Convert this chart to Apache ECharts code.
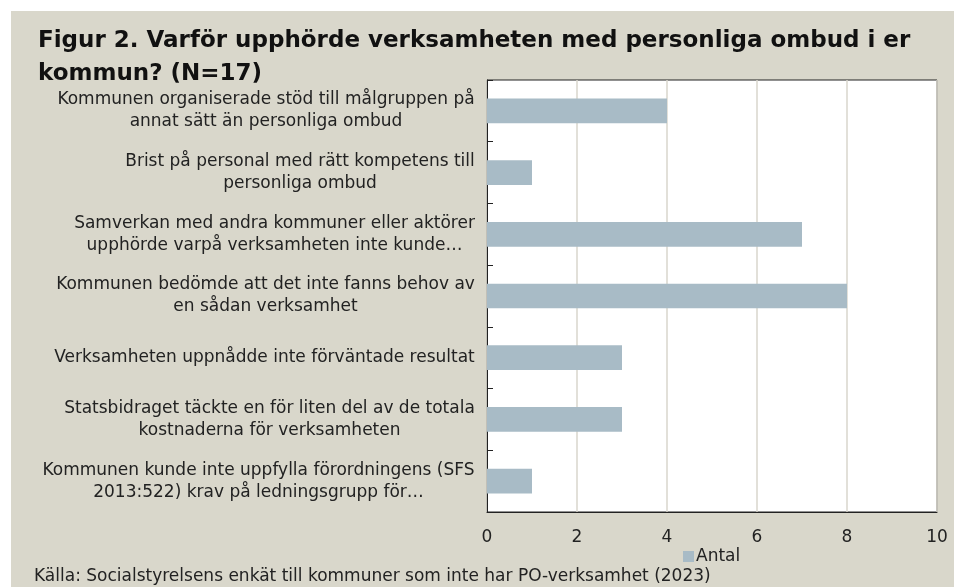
<!DOCTYPE html>
<html>
<head>
<meta charset="utf-8">
<script src="https://cdn.jsdelivr.net/npm/echarts@6/dist/echarts.min.js"></script>
<style>
  html, body { margin: 0; padding: 0; background: #fff; }
  #chart { width: 954px; height: 587px; }
</style>
</head>
<body>
<div id="chart"></div>
<script>
const categories = [
  'Kommunen organiserade stöd till målgruppen på\nannat sätt än personliga ombud',
  'Brist på personal med rätt kompetens till\npersonliga ombud',
  'Samverkan med andra kommuner eller aktörer\nupphörde varpå verksamheten inte kunde…',
  'Kommunen bedömde att det inte fanns behov av\nen sådan verksamhet',
  'Verksamheten uppnådde inte förväntade resultat',
  'Statsbidraget täckte en för liten del av de totala\nkostnaderna för verksamheten',
  'Kommunen kunde inte uppfylla förordningens (SFS\n2013:522) krav på ledningsgrupp för…'
]
const antal = [4, 1, 7, 8, 3, 3, 1]
const xTicks = [0, 2, 4, 6, 8, 10]

const labelFont = 'DejaVu Sans'
const labelSize = 17

// centre the lines of each label against its own widest line
const ctx = document.createElement('canvas').getContext('2d')
ctx.font = labelSize + 'px ' + labelFont
const rich = {}
categories.forEach((c, i) => {
  const w = Math.max(...c.split('\n').map(s => ctx.measureText(s).width))
  rich['l' + i] = { width: Math.ceil(w), align: 'center', fontSize: labelSize, fontFamily: labelFont, color: '#222', lineHeight: 22 }
})

const chart = echarts.init(document.getElementById('chart'))
chart.setOption({
  backgroundColor: '#fff',
  animation: false,
  title: {
    text: 'Figur 2. Varför upphörde verksamheten med personliga ombud i er\nkommun? (N=17)',
    left: 33, top: 20,
    textStyle: { fontFamily: labelFont, fontWeight: 'bold', fontSize: 23, color: '#111', lineHeight: 33 }
  },
  legend: {
    data: ['Antal'],
    left: 683, top: 548, padding: 0,
    icon: 'rect', itemWidth: 11, itemHeight: 11, itemGap: 0,
    textStyle: { fontFamily: labelFont, fontSize: 17, color: '#222', padding: [0, 0, 0, -3] }
  },
  grid: { left: 487, right: 17, top: 80, bottom: 75, show: true, backgroundColor: '#fff', borderColor: '#222', borderWidth: 1 },
  xAxis: {
    type: 'value', min: 0, max: 10, interval: 2,
    axisLine: { show: true, lineStyle: { color: '#222' } },
    axisTick: { show: false },
    splitLine: { lineStyle: { color: '#D8D6CC', width: 1.5 } },
    axisLabel: {
      margin: 17, fontFamily: labelFont, fontSize: 17, color: '#222',
      formatter: v => xTicks.includes(v) ? String(v) : ''
    }
  },
  yAxis: {
    type: 'category', data: categories, inverse: true,
    axisLine: { show: true, lineStyle: { color: '#222' } },
    axisTick: { show: true, inside: true, length: 6, lineStyle: { color: '#222' } },
    axisLabel: {
      margin: 12,
      formatter: (v, i) => v.split('\n').map(s => '{l' + i + '|' + s + '}').join('\n'),
      rich
    }
  },
  series: [{
    name: 'Antal', type: 'bar', data: antal,
    barWidth: '40%',
    itemStyle: { color: '#A8BBC6' }
  }],
  graphic: [{
    type: 'rect', left: 11, top: 11, z: -10,
    shape: { width: 943, height: 576 },
    style: { fill: '#D9D7CB' }
  }, {
    type: 'text', left: 34, top: 568,
    style: { text: 'Källa: Socialstyrelsens enkät till kommuner som inte har PO-verksamhet (2023)', fontFamily: labelFont, fontSize: 17, fill: '#222' }
  }]
})
</script>
</body>
</html>
